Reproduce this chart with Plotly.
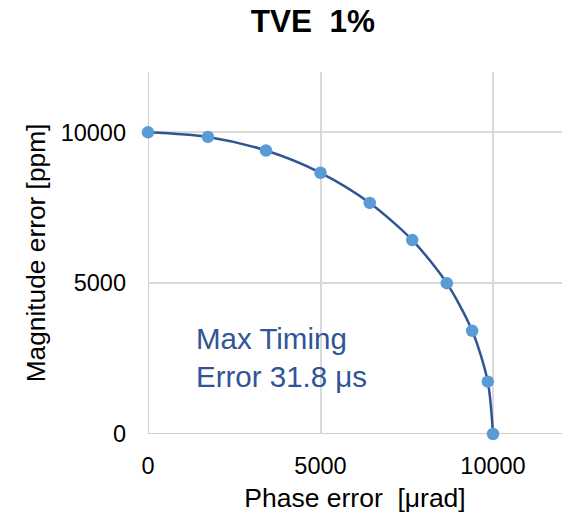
import plotly.graph_objects as go

phase_error = [0, 1736, 3420, 5000, 6428, 7660, 8660, 9397, 9848, 10000]
magnitude_error = [10000, 9848, 9397, 8660, 7660, 6428, 5000, 3420, 1736, 0]
tick_vals = [0, 5000, 10000]
tick_text = ["0", "5000", "10000"]

FONT = "Liberation Sans, Arial, sans-serif"

fig = go.Figure()
fig.add_trace(go.Scatter(
    x=phase_error, y=magnitude_error,
    mode="lines+markers",
    line=dict(color="#2f5597", width=2.5, shape="spline", smoothing=0.8),
    marker=dict(color="#5b9bd5", size=12.5),
    showlegend=False,
    cliponaxis=False,
))

fig.add_annotation(
    x=1330, y=2541, xref="x", yref="y",
    text="Max Timing<br>Error 31.8 μs",
    showarrow=False, xanchor="left", yanchor="middle", align="left",
    font=dict(family=FONT, size=29.5, color="#2f5597"),
)

fig.update_layout(
    width=567, height=516,
    margin=dict(l=148, r=5, t=72, b=82),
    paper_bgcolor="white", plot_bgcolor="white",
    title=dict(text="<b>TVE  1%</b>", x=0.552, xanchor="center", y=0.96, yanchor="middle",
               font=dict(family=FONT, size=31.5, color="black")),
    font=dict(family=FONT, color="black"),
)

fig.update_xaxes(
    range=[0, 12000], tickvals=tick_vals, ticktext=tick_text,
    showgrid=True, gridcolor="#d9d9d9", gridwidth=1.5,
    showline=False, zeroline=False,
    ticks="", ticklabelstandoff=15,
    tickfont=dict(family=FONT, size=23.5, color="black"),
    title=dict(text="Phase error  [μrad]", font=dict(family=FONT, size=26.5, color="black"), standoff=10),
)
fig.update_yaxes(
    range=[0, 12000], tickvals=tick_vals, ticktext=tick_text,
    showgrid=True, gridcolor="#d9d9d9", gridwidth=1.5,
    showline=False, zeroline=False,
    ticks="", ticklabelstandoff=21,
    tickfont=dict(family=FONT, size=23.5, color="black"),
    title=dict(text="Magnitude error [ppm]", font=dict(family=FONT, size=26.3, color="black"), standoff=7),
)

# axis lines at zero (gray)
fig.add_shape(type="line", xref="x", yref="paper", x0=0, x1=0, y0=0, y1=1,
              line=dict(color="#bfbfbf", width=1.5), layer="below")
fig.add_shape(type="line", xref="paper", yref="y", x0=0, x1=1, y0=0, y1=0,
              line=dict(color="#bfbfbf", width=1.5), layer="below")

fig.write_html("out.html")
